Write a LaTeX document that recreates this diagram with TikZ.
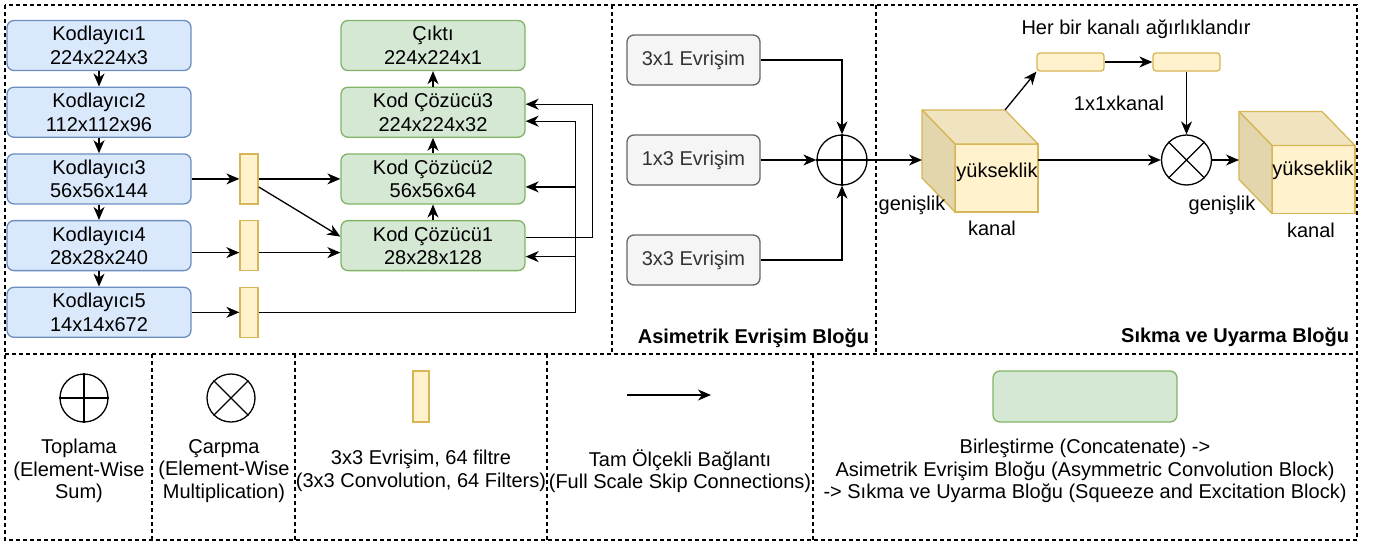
\documentclass[tikz,border=0pt]{standalone}
\usepackage{fontspec}
\setmainfont{Liberation Sans}
\usetikzlibrary{arrows.meta,calc,positioning}

\definecolor{encfill}{HTML}{DAE8FC}
\definecolor{encline}{HTML}{6C8EBF}
\definecolor{decfill}{HTML}{D5E8D4}
\definecolor{decline}{HTML}{82B366}
\definecolor{convfill}{HTML}{FFF2CC}
\definecolor{convline}{HTML}{D6B656}
\definecolor{asymfill}{HTML}{F5F5F5}
\definecolor{asymline}{HTML}{666666}
\definecolor{asymtext}{HTML}{333333}
\definecolor{cubetop}{HTML}{EFE3C0}
\definecolor{cubeside}{HTML}{E3D5AC}

\begin{document}
\begin{tikzpicture}[>={Stealth[length=13pt, width=11pt, inset=4pt]}, x=1pt, y=-1pt, line width=1.3pt, font=\fontsize{20}{23.5}\selectfont]

    \tikzstyle{enc}    = [rectangle, rounded corners=7pt, minimum width=184pt, minimum height=50pt, align=center, draw=encline, fill=encfill]
    \tikzstyle{dec}    = [rectangle, rounded corners=7pt, minimum width=184pt, minimum height=50pt, align=center, draw=decline, fill=decfill]
    \tikzstyle{bar}    = [rectangle, minimum width=18pt, minimum height=50pt, inner sep=0pt, draw=convline, fill=convfill]
    \tikzstyle{sq}     = [rectangle, rounded corners=3pt, minimum width=67pt, minimum height=18pt, inner sep=0pt, draw=convline, fill=convfill]
    \tikzstyle{asym}   = [rectangle, rounded corners=7pt, minimum width=133pt, minimum height=50pt, draw=asymline, fill=asymfill, text=asymtext]
    \tikzstyle{op}     = [circle, minimum size=50pt, inner sep=0pt, draw=black]
    \tikzstyle{face}   = [rectangle, minimum width=83pt, minimum height=68pt, inner sep=0pt, outer sep=0pt, draw=convline, fill=convfill]
    \tikzstyle{cubeedge} = [draw=convline, line join=round]
    \tikzstyle{panel}  = [line width=1.2pt, dash pattern=on 4pt off 3pt]
    \tikzstyle{title}  = [anchor=east, font=\fontsize{20}{23.5}\selectfont\bfseries]
    \tikzstyle{legend} = [align=center, font=\fontsize{20}{22.5}\selectfont]

    \useasboundingbox (0,0) rectangle (1381,546);

    \draw[panel] (5,5) rectangle (1357,540);
    \draw[panel] (5,354) -- (1357,354);
    \draw[panel] (612,5) -- (612,354)  (876,5) -- (876,354);
    \draw[panel] (152,354) -- (152,540)  (295,354) -- (295,540)  (547,354) -- (547,540)  (813,354) -- (813,540);

    \node (enc1)  [enc]                         at (99,45.5) {Kodlayıcı1\\224x224x3};
    \node (enc2)  [enc, below=15.4pt of enc1]   {Kodlayıcı2\\112x112x96};
    \node (enc3)  [enc, below=15.4pt of enc2]   {Kodlayıcı3\\56x56x144};
    \node (enc4)  [enc, below=15.4pt of enc3]   {Kodlayıcı4\\28x28x240};
    \node (enc5)  [enc, below=15.4pt of enc4]   {Kodlayıcı5\\14x14x672};

    \node (bar3)  [bar, right=47.7pt of enc3]   {};
    \node (bar4)  [bar, below=15.4pt of bar3]   {};
    \node (bar5)  [bar, below=15.4pt of bar4]   {};

    \node (dec3)  [dec, right=148.7pt of enc2]  {Kod Çözücü3\\224x224x32};
    \node (out)   [dec, above=15.4pt of dec3]   {Çıktı\\224x224x1};
    \node (dec2)  [dec, below=15.4pt of dec3]   {Kod Çözücü2\\56x56x64};
    \node (dec1)  [dec, below=15.4pt of dec2]   {Kod Çözücü1\\28x28x128};

    \path[->]  (enc1) edge (enc2)  (enc2) edge (enc3)  (enc3) edge (enc4)  (enc4) edge (enc5);
    \path[->]  (dec1) edge (dec2)  (dec2) edge (dec3)  (dec3) edge (out);
    \path[->]  (enc3) edge (bar3)  (bar3) edge (dec2)  (enc5) edge (bar5);

    \draw[->]  ($(enc4.east)+(0,7)$) -- ($(bar4.west)+(0,7)$);
    \draw[->]  ($(bar4.east)+(0,7)$) -- ($(dec1.west)+(0,7)$);
    \draw[->]  ($(bar3.east)+(0,8)$) -- ($(dec1.west)+(0,-9)$);

    \coordinate (bus) at ($(dec3.east)+(50,9)$);
    \draw[->]  (bar5.east) -| (bus) -- ($(dec3.east)+(0,9)$);
    \draw[->]  ($(dec2.east)+(50,8)$) -- ($(dec2.east)+(0,8)$);
    \draw[->]  ($(dec1.east)+(50,11)$) -- ($(dec1.east)+(0,11)$);
    \draw[->]  ($(dec1.east)+(0,-8)$) -- ++(67,0) |- ($(dec3.east)+(0,-8)$);

    \node (c13)   [asym]                        at (693.5,160) {1x3 Evrişim};
    \node (c31)   [asym, above=48.7pt of c13]   {3x1 Evrişim};
    \node (c33)   [asym, below=48.7pt of c13]   {3x3 Evrişim};
    \node (sum)   [op]                          at (842,160) {};
    \draw (sum.north) -- (sum.south)  (sum.west) -- (sum.east);

    \draw[->]  (c31.east) -| (sum.north);
    \draw[->]  (c13.east) -- (sum.west);
    \draw[->]  (c33.east) -| (sum.south);

    \node (face1) [face] at (996.5,178) {};
    \draw[cubeedge, fill=cubetop]  (face1.north west) -- ++(-33,-34) -- ++(83,0) -- (face1.north east) -- cycle;
    \draw[cubeedge, fill=cubeside] (face1.north west) -- ++(-33,-34) -- ++(0,68) -- (face1.south west) -- cycle;
    \node (h1) at (997,172) {yükseklik};
    \node (w1) at (912,205) {genişlik};
    \node (k1) at (992,228) {kanal};

    \coordinate (cin1) at ($(face1.west)+(-33,-18)$);
    \draw[->]  (sum.east) -- (cin1);

    \node (sq1)   [sq]                          at (1070.5,62) {};
    \node (sq2)   [sq, right=47.7pt of sq1]     {};
    \node (weigh) at (1136,29)  {Her bir kanalı ağırlıklandır};
    \node (chan)  at (1119,103) {1x1xkanal};

    \draw[->]  ($(face1.north east)+(-33,-34)$) -- (sq1.south west);
    \draw[->]  (sq1) -- (sq2);

    \node (mul)   [op] at (sq2 |- sum) {};
    \draw (mul.north west) -- (mul.south east)  (mul.north east) -- (mul.south west);
    \draw[->]  (sq2) -- (mul);
    \draw[->]  ($(face1.east)+(0,-18)$) -- (mul.west);

    \node (face2) [face] at (1313.5,179.5) {};
    \draw[cubeedge, fill=cubetop]  (face2.north west) -- ++(-33,-34) -- ++(83,0) -- (face2.north east) -- cycle;
    \draw[cubeedge, fill=cubeside] (face2.north west) -- ++(-33,-34) -- ++(0,68) -- (face2.south west) -- cycle;
    \node (h2) at (1313,170) {yükseklik};
    \node (w2) at (1222,205) {genişlik};
    \node (k2) at (1311,230) {kanal};

    \coordinate (cin2) at ($(face2.west)+(-33,-19.5)$);
    \draw[->]  (mul.east) -- (cin2);

    \node (asymtitle) [title] at (873,338)  {Asimetrik Evrişim Bloğu};
    \node (setitle)   [title] at (1353,337) {Sıkma ve Uyarma Bloğu};

    \node (lsum) [op, minimum size=48pt] at (84,398) {};
    \draw (lsum.north) -- (lsum.south)  (lsum.west) -- (lsum.east);
    \node (lsumtext) [legend] at (79,471) {Toplama\\(Element-Wise\\Sum)};

    \node (lmul) [op, minimum size=48pt] at (231,398) {};
    \draw (lmul.north west) -- (lmul.south east)  (lmul.north east) -- (lmul.south west);
    \node (lmultext) [legend] at (224,471) {Çarpma\\(Element-Wise\\Multiplication)};

    \node (lbar) [bar, minimum width=16pt, minimum height=51pt] at (421,396.5) {};
    \node (lbartext) [legend] at (421,471) {3x3 Evrişim, 64 filtre\\(3x3 Convolution, 64 Filters)};

    \coordinate (la) at (627,395);
    \coordinate (lb) at (711,395);
    \draw[->]  (la) -- (lb);
    \node (lskip) [legend] at (680,471) {Tam Ölçekli Bağlantı\\(Full Scale Skip Connections)};

    \node (ldec) [dec, minimum height=51pt] at (1085,396.5) {};
    \node (ldectext) [legend] at (1085,471) {Birleştirme (Concatenate) ->\\Asimetrik Evrişim Bloğu (Asymmetric Convolution Block)\\-> Sıkma ve Uyarma Bloğu (Squeeze and Excitation Block)};

\end{tikzpicture}
\end{document}
